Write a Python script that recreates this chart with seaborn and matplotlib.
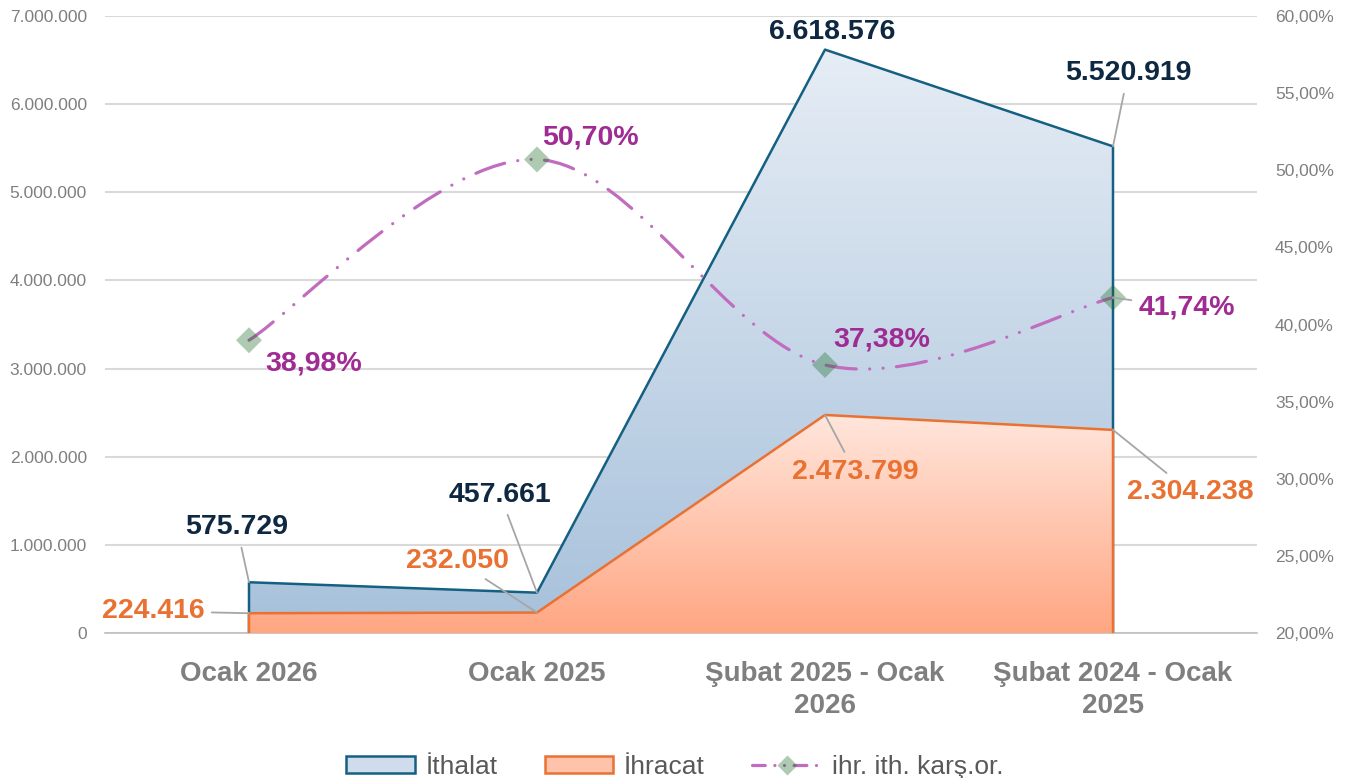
import numpy as np
import pandas as pd
import matplotlib
matplotlib.use('Agg')
from matplotlib import pyplot as plt
from matplotlib import font_manager
from matplotlib.path import Path
from matplotlib.patches import PathPatch, Patch
from matplotlib.lines import Line2D
from matplotlib.colors import LinearSegmentedColormap
import seaborn as sns

kategoriler = ['Ocak 2026', 'Ocak 2025', 'Şubat 2025 - Ocak\n2026', 'Şubat 2024 - Ocak\n2025']
ithalat = [575729, 457661, 6618576, 5520919]
ihracat = [224416, 232050, 2473799, 2304238]
oran = [38.98, 50.70, 37.38, 41.74]
seri_adlari = ['İthalat', 'İhracat', 'ihr. ith. karş.or.']

sns.set_style('white')
names = {f.name for f in font_manager.fontManager.ttflist}
narrow = 'Liberation Sans Narrow' if 'Liberation Sans Narrow' in names else 'Liberation Sans'
plt.rcParams['font.family'] = ['Liberation Sans', 'DejaVu Sans']

blue_edge = '#156082'
orange_edge = '#E97132'
navy = '#0E2841'
purple = '#A02B93'
line_col = '#c06cbf'
green = (0.098, 0.42, 0.14, 0.35)
grey_txt = '#7f7f7f'

fig = plt.figure(figsize=(13.49, 7.78), dpi=100)
ax = fig.add_axes([105/1349, 145/778, 1152/1349, 617/778])
ax2 = ax.twinx()

df = pd.DataFrame({'kategori': kategoriler, 'ithalat': ithalat, 'ihracat': ihracat, 'oran': oran})
df['x'] = np.arange(len(df)) + 0.5
xs = df['x'].to_numpy()


def gradient_area(ax, xs, ys, c_top, c_bottom, edge, z):
    ys = np.asarray(ys, dtype=float)
    poly = ax.fill_between(xs, 0, ys, facecolor='none', edgecolor='none', zorder=z)
    cmap = LinearSegmentedColormap.from_list('g', [c_bottom, c_top])
    grad = np.linspace(0, 1, 256).reshape(-1, 1)
    im = ax.imshow(grad, cmap=cmap, aspect='auto', origin='lower',
                   extent=[xs.min(), xs.max(), 0, ys.max()], zorder=z,
                   interpolation='bilinear')
    im.set_clip_path(poly.get_paths()[0], transform=ax.transData)
    ox = np.r_[xs[0], xs, xs[-1]]
    oy = np.r_[0, ys, 0]
    sns.lineplot(x=ox, y=oy, ax=ax, estimator=None, sort=False, color=edge,
                 lw=1.8, zorder=z + 0.1)


gradient_area(ax, xs, df['ithalat'], '#e6edf5', '#a7c1db', blue_edge, 2)
gradient_area(ax, xs, df['ihracat'], '#ffe6dc', '#ffa682', orange_edge, 3)

ax.set_xlim(0, 4)
ax.set_ylim(0, 7000000)
ax.set_yticks(np.arange(0, 7000001, 1000000))
ax.set_yticklabels([f'{int(v):,}'.replace(',', '.') for v in ax.get_yticks()])
ax.grid(axis='y', color='#d9d9d9', lw=1.5, zorder=0)
ax.set_axisbelow(True)
ax.set_xticks([0, 1, 2, 3, 4])
ax.set_xticklabels([])
ax.set_xticks(xs, minor=True)
ax.set_xticklabels(df['kategori'], minor=True, fontweight='bold', color=grey_txt,
                   fontsize=20, linespacing=1.3)
ax.tick_params(axis='x', which='minor', length=0, pad=20)
ax.tick_params(axis='x', which='major', length=8, width=1.2, color='#bfbfbf', direction='out')
ax.tick_params(axis='y', length=0, pad=13, labelsize=12.5, labelcolor=grey_txt)
ax.set_xlabel('')
ax.set_ylabel('')
for s in ['left', 'right', 'top']:
    ax.spines[s].set_visible(False)
ax.spines['bottom'].set_color('#bfbfbf')
ax.spines['bottom'].set_linewidth(1.2)

# smoothed ratio line (bezier through the data points)
pts = df[['x', 'oran']].to_numpy(dtype=float)
P = np.vstack([pts[0], pts, pts[-1]])
verts = [pts[0]]
codes = [Path.MOVETO]
for i in range(len(pts) - 1):
    p0, p1, p2, p3 = P[i], P[i + 1], P[i + 2], P[i + 3]
    verts += [p1 + (p2 - p0) / 6, p2 - (p3 - p1) / 6, p2]
    codes += [Path.CURVE4] * 3
dash = (0, (9.5, 4.2, 0.01, 4.2, 0.01, 4.2))
ax2.add_patch(PathPatch(Path(verts, codes), fill=False, edgecolor=line_col, lw=2.3,
                        linestyle=dash, capstyle='round', zorder=4))
sns.scatterplot(data=df, x='x', y='oran', ax=ax2, marker='D', s=175, color=green[:3],
                alpha=green[3], edgecolor='none', zorder=5, legend=False)
ax2.set_ylim(20, 60)
ax2.set_yticks(np.arange(20, 61, 5))
ax2.set_yticklabels([f'{v:.2f}%'.replace('.', ',') for v in ax2.get_yticks()])
ax2.tick_params(axis='y', length=0, pad=13, labelsize=12.5, labelcolor=grey_txt)
ax2.set_xlabel('')
ax2.set_ylabel('')
for s in ax2.spines.values():
    s.set_visible(False)
ax.set_xlim(0, 4)

leader = dict(arrowstyle='-', color='#a6a6a6', lw=1.3, shrinkA=3, shrinkB=0)
fs = 20.5

ith_off = [(-12, 55), (-37, 98), (7, 18), (15, 73)]
ith_lead = [True, True, False, True]
for xi, v, off, ld in zip(xs, df['ithalat'], ith_off, ith_lead):
    ax.annotate(f'{v:,}'.replace(',', '.'), (xi, v), xytext=off, textcoords='offset pixels',
                ha='center', va='center', fontsize=fs, fontweight='bold', color=navy,
                arrowprops=leader if ld else None, zorder=6)

ihr_off = [(-96, 2), (-80, 52), (30, -57), (77, -62)]
for xi, v, off in zip(xs, df['ihracat'], ihr_off):
    ax.annotate(f'{v:,}'.replace(',', '.'), (xi, v), xytext=off, textcoords='offset pixels',
                ha='center', va='center', fontsize=fs, fontweight='bold', color=orange_edge,
                arrowprops=leader, zorder=6)

oran_off = [(65, -23), (53, 22), (57, 25), (74, -10)]
oran_lead = [False, False, False, True]
for xi, v, off, ld in zip(xs, df['oran'], oran_off, oran_lead):
    ax2.annotate(f'{v:.2f}%'.replace('.', ','), (xi, v), xytext=off, textcoords='offset pixels',
                 ha='center', va='center', fontsize=fs, fontweight='bold', color=purple,
                 arrowprops=leader if ld else None, zorder=6)

handles = [
    Patch(facecolor='#cfdcec', edgecolor=blue_edge, lw=1.8),
    Patch(facecolor='#ffc3ab', edgecolor=orange_edge, lw=1.8),
    Line2D([0], [0], color=line_col, lw=2.3, linestyle=(0, (4, 3, 0.01, 3, 0.01, 3)),
           dash_capstyle='round', marker='D', markersize=10, markerfacecolor=green,
           markeredgecolor='none'),
]
fig.legend(handles, seri_adlari, loc='center', bbox_to_anchor=(0.5, 11 / 778), ncol=3,
           frameon=False, handlelength=2.6, handleheight=0.6, handletextpad=0.4,
           columnspacing=1.8, labelcolor='#595959',
           prop={'family': [narrow, 'Liberation Sans'], 'size': 19})

fig.savefig('out.png', dpi=100)
